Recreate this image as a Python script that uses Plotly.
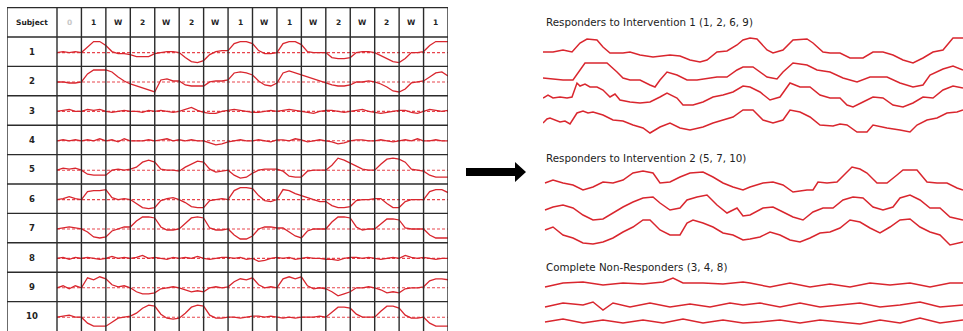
import numpy as np
import plotly.graph_objects as go

# ---------------- DATA ----------------
subjects = ["1", "2", "3", "4", "5", "6", "7", "8", "9", "10"]
phase_labels = ["0", "1", "W", "2", "W", "2", "W", "1", "W", "1", "W", "2", "W", "2", "W", "1"]
samples_per_phase = 4

# deviation from each subject's baseline, 4 samples per phase (+ final point)
s1 = [0, 1, 0, 1, 0, 6, 11, 11, 7, 1, -1, -1, -2, -4, -4, -4, -1, 0, 1, 1, 0, -5, -9, -10, -8, -2, 1, 2, 2,
      9, 11, 11, 9, 2, -1, -1, 0, 9, 11, 11, 8, 1, 0, 0, 0, -5, -6, -6, -5, 0, 1, 1, 0, -3, -6, -9, -10,
      -6, 0, 0, 1, 7, 11, 11, 11]
s2 = [0, 0, -1, -1, 0, 8, 12, 12, 12, 10, 5, 1, -2, -4, -6, -8, -10, 2, 3, 1, 1, -3, -4, -4, -4, 0, 1, 1, 2,
      9, 10, 9, 7, 1, -3, -4, -1, 9, 11, 9, 7, 5, 3, 1, -1, -3, -4, -4, -3, 0, 0, 1, 0, -2, -5, -9, -10,
      -7, -1, 0, 1, 5, 9, 10, 6]
s3 = [0, 1, 2, 0, 0, 2, 1, 2, 0, -1, 0, 1, 0, 0, -1, 1, 0, 1, 0, -1, 0, 2, 4, 1, -1, -2, -2, 0, 1,
      2, 1, 0, -1, -1, 0, 1, 0, 1, 2, 1, 0, -1, -2, 0, 1, 1, 0, -1, 0, 1, 2, 0, -1, -2, -1, 0, 1,
      1, -1, -2, 0, 2, 1, 0, 1]
s4 = [0, 1, 0, 1, 0, 1, 0, 2, 0, 1, -1, 2, 0, 0, 0, 1, 0, 1, 2, 0, 1, 0, 1, 0, 0, -2, -4, -3, -1,
      0, 1, 0, 0, 1, 0, -1, 1, 1, 0, 2, 1, -1, 0, 1, 0, -1, -3, -2, 0, 1, 1, 0, 0, 1, 0, -1, 0,
      1, 0, 2, 0, 0, 1, 0, 0]
s5 = [0, 2, 1, 2, 0, -4, -5, -5, -5, 0, 1, 0, 1, 3, 8, 10, 8, 1, 0, 0, -1, 3, 6, 9, 8, 1, -2, -1, 0,
      -5, -8, -7, -3, 0, 1, 1, 1, -1, -6, -7, -7, -1, 0, 0, 0, 5, 12, 10, 7, 4, 1, 0, 0, 6, 11, 12, 11,
      8, 1, 0, -1, -5, -7, -7, -7]
s6 = [0, 1, 3, 1, 0, 8, 9, 9, 10, 2, 0, 1, 0, -4, -8, -9, -8, -1, 1, 2, 0, -3, -7, -8, -8, -1, 0, 1, 0,
      9, 12, 12, 11, 4, -1, -2, 0, 10, 9, 6, 4, 2, 0, -2, -2, -6, -8, -8, -7, -1, 0, 0, 1, 1, -4, -8, -8,
      -2, 0, 0, 0, 8, 10, 10, 7]
s7 = [0, 1, 2, 1, 0, -3, -8, -9, -8, -2, 0, 2, 2, 8, 12, 12, 11, 2, -1, -1, 0, 6, 11, 12, 11, 1, -1, -1, 0,
      -6, -10, -10, -7, 0, 2, 2, 1, 1, -3, -7, -9, -2, 0, 0, 0, 7, 12, 12, 11, 2, -1, 0, 0, 5, 10, 10, 9,
      1, 0, 0, 0, -6, -9, -9, -9]
s8 = [0, 1, -1, 1, 0, 1, 0, -1, 0, 2, 0, 1, 0, 1, 3, 0, 1, 0, -1, 1, 0, 1, 0, 2, 0, -1, 0, 1, 1,
      0, 1, -1, 0, -3, -2, 0, 1, 0, 1, -1, 0, 1, 0, 0, -1, -1, -2, 0, 1, 1, 0, 1, 0, -1, 0, 1, 0,
      3, 1, 0, 1, 0, -1, 0, 0]
s9 = [0, 2, -1, 2, 0, 10, 8, 11, 9, 3, 1, 2, 0, -4, -6, -6, -5, -1, 0, 1, 0, -2, -4, -3, -4, 0, 1, 0, 1,
      6, 9, 8, 10, 3, 0, 1, 0, 9, 11, 9, 11, 2, -1, 0, -1, -4, -8, -6, -4, 0, 0, 1, 0, -2, -5, -4, -5,
      -1, 0, 0, 1, 7, 9, 9, 8]
s10 = [0, 1, 2, 0, 0, -6, -9, -9, -9, -5, -1, 0, 1, 4, 9, 12, 11, 3, -1, -2, -1, 4, 10, 12, 11, 2, -1, -1, 0,
       0, -1, 0, 1, 1, 0, 1, 0, -1, 0, -1, 0, 0, 0, 1, 0, 5, 10, 10, 9, 3, 0, 0, 0, 6, 11, 11, 9,
       2, -1, -1, 0, -6, -9, -9, -9]
subject_series = [s1, s2, s3, s4, s5, s6, s7, s8, s9, s10]

# right-hand summary traces: (time, deviation)
grp1_title = "Responders to Intervention 1 (1, 2, 6, 9)"
grp2_title = "Responders to Intervention 2 (5, 7, 10)"
grp3_title = "Complete Non-Responders (3, 4, 8)"

rA_t = [0, 10, 20, 29, 37, 44, 54, 60, 67, 80, 87, 97, 110, 127, 137, 147, 157, 164, 174, 184,
        194, 200, 207, 214, 224, 230, 240, 250, 264, 270, 280, 287, 297, 307, 320, 330, 340, 350, 360, 370,
        380, 390, 400, 410, 420]
rA_v = [0, 0, 2, 0, 9, 13, 12, 5, -1, -1, 0, -3, -5, -3, -4, -8, -10, -8, 0, 1,
        7, 12, 14, 13, 2, -1, 2, 12, 13, 9, 0, -1, -1, -6, -6, 0, 0, -3, -8, -11,
        -6, 0, 2, 14, 14]
rB_t = [0, 20, 30, 37, 42, 54, 64, 74, 80, 87, 97, 107, 112, 117, 124, 134, 144, 154, 167, 174,
        184, 194, 200, 210, 224, 234, 240, 250, 264, 274, 287, 300, 314, 327, 344, 357, 370, 380, 387, 400,
        410, 420]
rB_v = [0, -2, -2, 8, 15, 15, 15, 6, 0, -2, -2, -7, -9, -2, 6, 3, -2, -2, 0, 1,
        1, 8, 11, 11, 1, -1, 6, 15, 13, 8, 6, 0, -4, 1, 1, -5, -9, -7, 3, 9,
        12, 8]
rC_t = [0, 5, 10, 17, 24, 29, 34, 37, 42, 47, 54, 60, 67, 72, 77, 87, 97, 107, 117, 124,
        134, 140, 150, 160, 170, 180, 190, 200, 207, 217, 227, 237, 247, 257, 267, 277, 287, 297, 304, 310,
        320, 330, 340, 350, 360, 370, 380, 390, 400, 410, 420]
rC_v = [-1, 2, -1, 0, -1, 0, 14, 11, 13, 10, 10, 7, 0, 3, -3, -5, -6, -5, 0, 4,
        -1, -8, -8, -5, 0, 2, 5, 11, 10, 5, -3, 0, 14, 10, 10, 2, -1, -1, -8, -10,
        -5, 0, -1, -8, -10, -6, 0, -1, 7, 11, 9]
rD_t = [0, 4, 7, 12, 17, 22, 27, 34, 40, 45, 50, 60, 70, 80, 90, 100, 107, 117, 127, 137,
        147, 160, 170, 180, 190, 200, 210, 220, 230, 240, 247, 257, 267, 277, 290, 297, 304, 314, 324, 330,
        344, 357, 367, 374, 384, 394, 404, 414, 420]
rD_v = [-3, 1, 2, 0, -2, -1, -4, 7, 9, 7, 8, 5, 0, -1, -5, -8, -13, -7, -3, -8,
        -10, -7, -3, 0, 3, 10, 10, 0, -3, 0, 10, 8, 3, -5, -6, -4, -5, -12, -12, -5,
        -8, -10, -12, -5, 0, 2, 7, 8, 10]
rE_t = [2, 10, 20, 30, 40, 50, 60, 70, 80, 90, 100, 110, 117, 127, 137, 147, 160, 170, 180, 190,
        200, 207, 220, 230, 240, 250, 264, 270, 275, 284, 294, 304, 309, 317, 324, 334, 344, 354, 360, 374,
        384, 394, 404, 414, 420]
rE_v = [0, 3, 0, -2, -7, -4, 1, 0, 3, 10, 12, 10, 0, 1, 6, 10, 11, 6, 0, -4,
        -7, -4, 0, 1, -2, -9, -7, -7, 1, 0, 1, 11, 16, 14, 10, 0, 0, 8, 13, 13,
        1, 0, 0, -5, -7]
rF_t = [2, 10, 20, 30, 40, 50, 60, 70, 80, 90, 100, 110, 117, 127, 137, 144, 154, 164, 174, 184,
        194, 200, 207, 220, 230, 240, 250, 260, 270, 280, 290, 300, 310, 320, 330, 340, 350, 357, 367, 377,
        387, 397, 407, 420]
rF_v = [-2, 1, 3, 0, -7, -12, -11, -5, 1, 6, 10, 11, 5, -2, 0, 8, 11, 13, 3, -5,
        0, -8, -7, 0, 1, -4, -9, -12, -4, 0, 0, 8, 11, 10, 1, -2, 1, 10, 13, 8,
        0, 0, -9, -12]
rG_t = [2, 10, 20, 30, 40, 50, 60, 70, 80, 90, 100, 107, 117, 127, 137, 144, 150, 160, 170, 180,
        190, 200, 207, 217, 227, 237, 247, 257, 267, 277, 287, 297, 307, 317, 327, 337, 347, 357, 367, 377,
        387, 397, 407, 420]
rG_v = [3, 6, -2, -5, -10, -11, -9, -5, 1, 6, 13, 13, 3, -2, -2, 10, 13, 10, 6, 0,
        -2, -7, -6, -4, 1, -2, -7, -9, -5, 0, 1, 5, 13, 11, 5, 0, 6, 13, 14, 6,
        1, -2, -12, -9]
rH_t = [2, 20, 40, 60, 80, 100, 120, 130, 140, 160, 180, 200, 207, 227, 247, 267, 287, 307, 327, 347,
        367, 387, 407, 420]
rH_v = [-3, 1, 2, -1, 1, 0, 2, 6, 1, 1, 0, 2, 1, -3, 1, -3, 0, -3, 1, -1,
        1, -3, 1, 1]
rI_t = [2, 20, 40, 50, 60, 70, 87, 107, 127, 147, 167, 187, 200, 217, 237, 257, 277, 297, 317, 337,
        357, 377, 397, 420]
rI_v = [-2, 2, 0, 3, -5, 2, -2, 2, -2, 1, -2, 2, 0, 2, -2, 2, -2, 0, 2, -2,
        0, 3, -2, 0]
rJ_t = [2, 20, 40, 60, 80, 100, 120, 140, 160, 180, 200, 217, 237, 257, 277, 297, 317, 337, 357, 377,
        397, 420]
rJ_v = [-1, 2, -2, 1, -2, 1, -2, 2, -2, 1, -2, -1, 1, -2, 1, -1, -3, 1, -2, 3,
        -2, 1]

# ---------------- LAYOUT / STYLE ----------------
W, H = 963, 331
RED = "#d9262e"
DASH_RED = "#e8444c"
GRID = "#2b2b2b"
ROW_PX = 29.4
subj_col_units = 50 / 24.44

fig = go.Figure()

# table traces
x_tab = np.arange(len(s1)) / samples_per_phase
for k, vals in enumerate(subject_series, start=1):
    base = k - 0.47
    fig.add_trace(go.Scatter(x=x_tab, y=base - np.array(vals) / ROW_PX, mode="lines",
                             line=dict(color=RED, width=1.3), hoverinfo="skip",
                             xaxis="x", yaxis="y"))

# right summary traces
lanes = [(rA_t, rA_v, 52), (rB_t, rB_v, 78), (rC_t, rC_v, 97), (rD_t, rD_v, 120),
         (rE_t, rE_v, 183), (rF_t, rF_v, 208), (rG_t, rG_v, 233),
         (rH_t, rH_v, 284), (rI_t, rI_v, 305), (rJ_t, rJ_v, 321)]
for t, v, lane in lanes:
    fig.add_trace(go.Scatter(x=t, y=lane - np.array(v), mode="lines",
                             line=dict(color=RED, width=1.5), hoverinfo="skip",
                             xaxis="x2", yaxis="y2"))

shapes = []
n_ph = len(phase_labels)
# vertical grid lines
for xv in [-subj_col_units] + list(range(0, n_ph + 1)):
    shapes.append(dict(type="line", xref="x", yref="y", x0=xv, x1=xv, y0=-1, y1=10.5,
                       line=dict(color=GRID, width=1.4)))
# horizontal grid lines
for yv in range(-1, 10):
    shapes.append(dict(type="line", xref="x", yref="y", x0=-subj_col_units, x1=n_ph, y0=yv, y1=yv,
                       line=dict(color=GRID, width=1.4)))
# dashed baselines
for k in range(1, len(subjects) + 1):
    shapes.append(dict(type="line", xref="x", yref="y", x0=0, x1=n_ph, y0=k - 0.47, y1=k - 0.47,
                       line=dict(color=DASH_RED, width=1.1, dash="3px,2px"), layer="below"))


def P(px, py):
    return px / W, 1 - py / H


pts = [(466, 168), (515, 168), (515, 162), (526, 172), (515, 182), (515, 176), (466, 176)]
path = "M " + " L ".join(f"{P(a, b)[0]:.5f},{P(a, b)[1]:.5f}" for a, b in pts) + " Z"
shapes.append(dict(type="path", xref="paper", yref="paper", path=path,
                   fillcolor="black", line=dict(color="black", width=0)))

annotations = []
FONT = "DejaVu Sans, Verdana, sans-serif"
annotations.append(dict(x=-subj_col_units / 2, y=-0.5, xref="x", yref="y", text="<b>Subject</b>",
                        showarrow=False, font=dict(family=FONT, size=7.5, color="#222")))
for c, lab in enumerate(phase_labels):
    col = "#c8c8c8" if c == 0 else "#222"
    annotations.append(dict(x=c + 0.5, y=-0.5, xref="x", yref="y", text=f"<b>{lab}</b>",
                            showarrow=False, font=dict(family=FONT, size=7.5, color=col)))
for k, s in enumerate(subjects, start=1):
    annotations.append(dict(x=-subj_col_units / 2, y=k - 0.5, xref="x", yref="y", text=f"<b>{s}</b>",
                            showarrow=False, font=dict(family=FONT, size=8.5, color="#222")))
for title, ty in [(grp1_title, 22), (grp2_title, 158), (grp3_title, 267)]:
    annotations.append(dict(x=1, y=ty, xref="x2", yref="y2", text=title, xanchor="left",
                            showarrow=False, font=dict(family=FONT, size=10.3, color="#222")))

fig.update_layout(
    width=W, height=H, margin=dict(l=0, r=0, t=0, b=0),
    paper_bgcolor="white", plot_bgcolor="white", showlegend=False,
    xaxis=dict(domain=[7 / W, 448 / W], range=[-subj_col_units, n_ph], visible=False, fixedrange=True),
    yaxis=dict(domain=[0, 1], range=[10, -1 - 7.6 / ROW_PX], visible=False, fixedrange=True),
    xaxis2=dict(domain=[543 / W, 1], range=[0, 420], visible=False, fixedrange=True),
    yaxis2=dict(domain=[0, 1], range=[H, 0], visible=False, fixedrange=True),
    shapes=shapes, annotations=annotations,
)

fig.write_html("out.html", config={"displayModeBar": False},
               post_script="document.body.style.margin='0';document.body.style.overflow='hidden';")
